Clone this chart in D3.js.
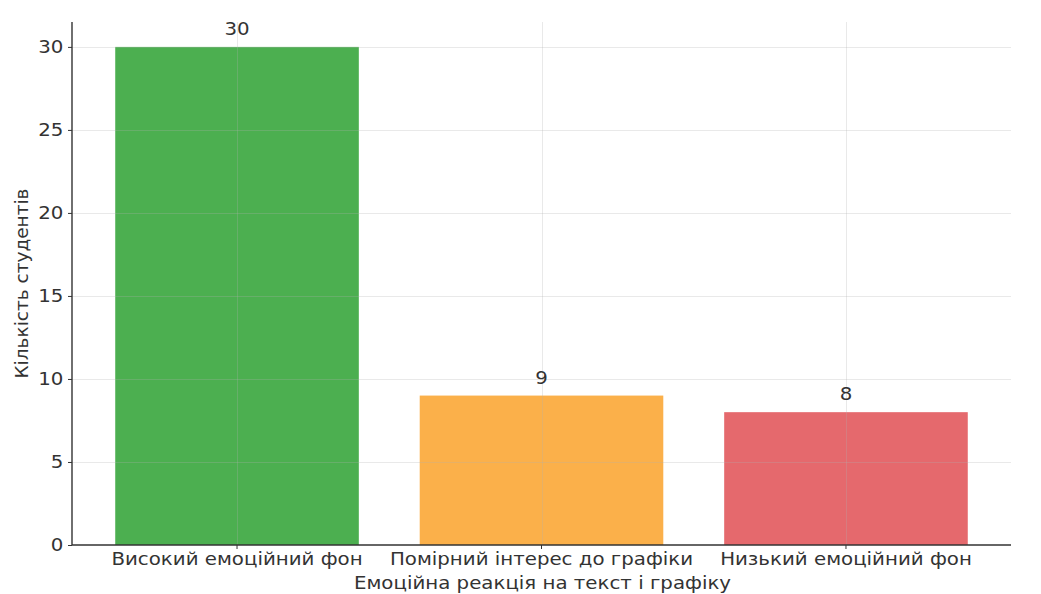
<!DOCTYPE html>
<html>
<head>
<meta charset="utf-8">
<script src="https://cdn.jsdelivr.net/npm/d3@7"></script>
<style>
  html, body { margin: 0; padding: 0; background: #fff; }
  svg { display: block; font-family: "DejaVu Sans", sans-serif; }
</style>
</head>
<body>
<svg id="chart" width="1041" height="594"></svg>
<script>
// Emotional response categories and student counts
const categories = ["Високий емоційний фон", "Помірний інтерес до графіки", "Низький емоційний фон"];
const counts = [30, 9, 8];
const barColors = ["#4caf50", "#fbb04a", "#e5696d"];
const yTicks = [0, 5, 10, 15, 20, 25, 30];
const xTitle = "Емоційна реакція на текст і графіку";
const yTitle = "Кількість студентів";

const svg = d3.select("#chart");
const plot = { left: 72, right: 1011, top: 22, bottom: 545 };
const fontSize = "18.5px";
const stretch = "scale(1.07,1)";
const textColor = "#333";

// Band scale: 80% bar width, outer padding matching the axes margins
const x = d3.scaleBand()
  .domain(categories)
  .range([plot.left, plot.right])
  .paddingInner(0.2)
  .paddingOuter(0.142);

const y = d3.scaleLinear()
  .domain([0, 31.5])
  .range([plot.bottom, plot.top]);

// Bars
svg.append("g")
  .selectAll("rect")
  .data(categories)
  .join("rect")
  .attr("x", d => x(d))
  .attr("width", x.bandwidth())
  .attr("y", (d, i) => y(counts[i]))
  .attr("height", (d, i) => y(0) - y(counts[i]))
  .attr("fill", (d, i) => barColors[i]);

// Grid lines drawn over the bars, faint
const grid = svg.append("g").attr("stroke", "#b0b0b0").attr("stroke-opacity", 0.28).attr("stroke-width", 1);
grid.selectAll("line.h")
  .data(yTicks.filter(t => t > 0))
  .join("line")
  .attr("class", "h")
  .attr("x1", plot.left).attr("x2", plot.right)
  .attr("y1", d => Math.round(y(d)) + 0.5).attr("y2", d => Math.round(y(d)) + 0.5);
grid.selectAll("line.v")
  .data(categories)
  .join("line")
  .attr("class", "v")
  .attr("x1", d => Math.round(x(d) + x.bandwidth() / 2) + 0.5)
  .attr("x2", d => Math.round(x(d) + x.bandwidth() / 2) + 0.5)
  .attr("y1", plot.top).attr("y2", plot.bottom);

// Y axis
const yAxis = svg.append("g")
  .attr("transform", `translate(${plot.left},0)`)
  .call(d3.axisLeft(y).tickValues(yTicks).tickSize(4).tickPadding(4).tickFormat(d3.format("d")));
yAxis.select(".domain").attr("stroke", "#333").attr("stroke-width", 1.4).attr("d", `M0,${plot.top}V${plot.bottom}`);
yAxis.selectAll(".tick line").attr("stroke", "#333");
yAxis.selectAll(".tick text").attr("fill", textColor).attr("transform", stretch)
  .style("font-size", fontSize).style("font-family", "DejaVu Sans");

// X axis
const xAxis = svg.append("g")
  .attr("transform", `translate(0,${plot.bottom})`)
  .call(d3.axisBottom(x).tickSize(4).tickPadding(3));
xAxis.select(".domain").attr("stroke", "#333").attr("stroke-width", 1.4).attr("d", `M${plot.left},0H${plot.right}`);
xAxis.selectAll(".tick line").attr("stroke", "#333");
xAxis.selectAll(".tick text").attr("fill", textColor).attr("transform", stretch)
  .style("font-size", fontSize).style("font-family", "DejaVu Sans");

// Value labels above bars
svg.append("g")
  .selectAll("g")
  .data(categories)
  .join("g")
  .attr("transform", (d, i) => `translate(${x(d) + x.bandwidth() / 2},${y(counts[i]) - 12}) ${stretch}`)
  .append("text")
  .attr("text-anchor", "middle")
  .attr("fill", textColor)
  .style("font-size", fontSize)
  .text((d, i) => counts[i]);

// Axis titles
svg.append("text")
  .attr("transform", `translate(${(plot.left + plot.right) / 2 + 1},589) ${stretch}`)
  .attr("text-anchor", "middle")
  .attr("fill", textColor)
  .style("font-size", fontSize)
  .text(xTitle);

svg.append("text")
  .attr("transform", `translate(28,${(plot.top + plot.bottom) / 2}) rotate(-90)`)
  .attr("text-anchor", "middle")
  .attr("fill", textColor)
  .style("font-size", fontSize)
  .text(yTitle);
</script>
</body>
</html>
